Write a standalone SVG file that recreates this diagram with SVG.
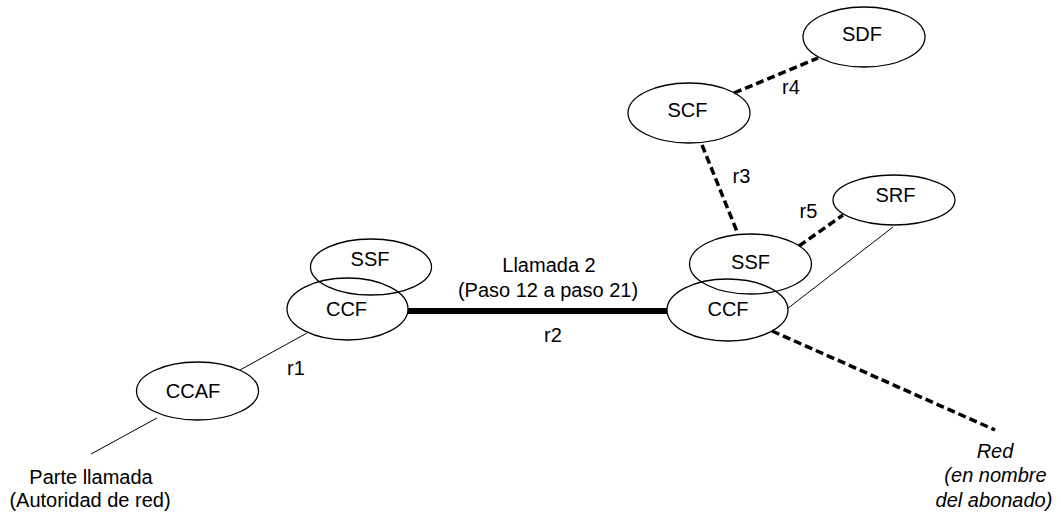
<svg xmlns="http://www.w3.org/2000/svg" width="1061" height="517" viewBox="0 0 1061 517">
<style>
.n{fill:none;stroke:#000;stroke-width:1.3}
.t{font-family:"Liberation Sans",Arial,sans-serif;font-size:20px;fill:#000;text-anchor:middle}
.i{font-style:italic}
.thin{stroke:#000;stroke-width:1;fill:none}
.dash{stroke:#000;stroke-width:3.5;stroke-dasharray:8 4;fill:none}
.thick{stroke:#000;stroke-width:6;fill:none}
</style>
<rect width="1061" height="517" fill="#fff"/>
<g id="connectors">
<line class="thin" x1="91" y1="454" x2="157" y2="418"/>
<line class="thin" x1="240" y1="370" x2="307" y2="333"/>
<line class="thick" x1="408" y1="311" x2="667" y2="311"/>
<line class="dash" x1="734" y1="93" x2="818" y2="58"/>
<line class="dash" x1="702" y1="145" x2="738" y2="234"/>
<line class="dash" x1="799" y1="246" x2="843" y2="215"/>
<line class="thin" x1="787" y1="309" x2="893" y2="227"/>
<line class="dash" x1="772" y1="331" x2="995" y2="430"/>
</g>
<g id="ccaf"><ellipse class="n" cx="197.5" cy="391" rx="61" ry="29"/><text class="t" x="193" y="398">CCAF</text></g>
<g id="ssf-left"><ellipse class="n" cx="371" cy="267" rx="60.5" ry="28"/><text class="t" x="370" y="266">SSF</text></g>
<g id="ccf-left"><ellipse class="n" cx="347.5" cy="309" rx="60.5" ry="31"/><text class="t" x="346.5" y="316">CCF</text></g>
<g id="ssf-right"><ellipse class="n" cx="750.5" cy="264" rx="61" ry="30"/><text class="t" x="750.5" y="269">SSF</text></g>
<g id="ccf-right"><ellipse class="n" cx="727.5" cy="310" rx="60.5" ry="31"/><text class="t" x="728" y="316">CCF</text></g>
<g id="scf"><ellipse class="n" cx="689" cy="113" rx="61" ry="30"/><text class="t" x="687.5" y="117">SCF</text></g>
<g id="sdf"><ellipse class="n" cx="864" cy="37" rx="61" ry="30"/><text class="t" x="862" y="41">SDF</text></g>
<g id="srf"><ellipse class="n" cx="894" cy="200" rx="61" ry="25"/><text class="t" x="895.5" y="202">SRF</text></g>
<g id="labels">
<text class="t" x="296" y="375">r1</text>
<text class="t" x="553" y="342">r2</text>
<text class="t" x="741.5" y="183">r3</text>
<text class="t" x="791" y="94">r4</text>
<text class="t" x="808.5" y="218">r5</text>
<text class="t" x="549" y="272">Llamada 2</text>
<text class="t" x="548" y="297">(Paso 12 a paso 21)</text>
<text class="t" x="91" y="484">Parte llamada</text>
<text class="t" x="90" y="507">(Autoridad de red)</text>
<text class="t i" x="995" y="458">Red</text>
<text class="t i" x="995.5" y="482">(en nombre</text>
<text class="t i" x="994" y="507">del abonado)</text>
</g>
</svg>
